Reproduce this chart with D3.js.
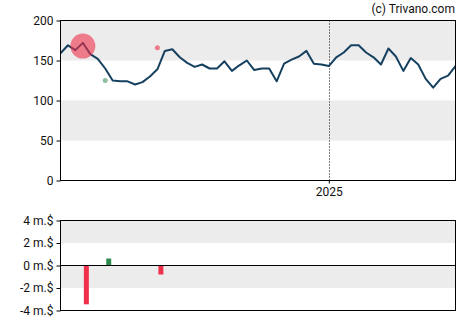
<!DOCTYPE html>
<html><head><meta charset="utf-8">
<script src="https://cdn.jsdelivr.net/npm/d3@7"></script>
<style>body{margin:0;background:#fff}svg{display:block}text{font-family:Roboto,"Liberation Sans",Arial,sans-serif}</style>
</head><body>
<div id="chart"></div>
<script>
// Weekly closing prices (54 weeks)
const startDate = new Date(2024, 3, 24);
const dates = d3.range(54).map(i => d3.timeWeek.offset(startDate, i));
const prices = [159,169,163,172,158,152,140,125,124,124,120,123,130,139,162,164,154,147,142,145,
  140,140,149,137,144,150,138,140,140,124,146,151,155,162,146,145,143,154,160,169,
  169,160,154,145,165,155,137,153,145,127,116,127,131,143];
// insider events: week index, price level, size, type
const eventIdx = [3, 6, 13];
const eventPrice = [168, 125, 166];
const eventRadius = [12.5, 2.5, 2.5];
const eventType = ["sell", "buy", "sell"];
// net transaction amounts in millions $
const barIdx = [3, 6, 13];
const barValues = [-3.45, 0.62, -0.8];
const barType = ["sell", "buy", "sell"];
const yTicks = [0, 50, 100, 150, 200];
const y2Ticks = [4, 2, 0, -2, -4];
const y2Labels = ["4 m.$", "2 m.$", "0 m.$", "-2 m.$", "-4 m.$"];
const xTickDates = [new Date(2025, 0, 1)];
const xTickLabels = ["2025"];

const W = 470, H = 325;
const svg = d3.select("#chart").append("svg").attr("width", W).attr("height", H);
const L = 60.5, R = 455.5;
const x = d3.scaleTime().domain([dates[0], dates[dates.length - 1]]).range([L, R]);
const y = d3.scaleLinear().domain([0, 200]).range([180.5, 20.5]);
const y2 = d3.scaleLinear().domain([-4, 4]).range([310.5, 220.5]);
const red = "#f0304a", green = "#2e8b4e";

// bands main
[[150, 200], [50, 100]].forEach(b => {
  svg.append("rect").attr("x", L).attr("width", R - L).attr("y", y(b[1])).attr("height", y(b[0]) - y(b[1])).attr("fill", "#ececec");
});
[[2, 4], [-2, 0]].forEach(b => {
  svg.append("rect").attr("x", L).attr("width", R - L).attr("y", y2(b[1])).attr("height", y2(b[0]) - y2(b[1])).attr("fill", "#ececec");
});

// 2025 dotted line
xTickDates.forEach(d => {
  const xx = Math.round(x(d)) + 0.5;
  svg.append("line").attr("x1", xx).attr("x2", xx).attr("y1", 20.5).attr("y2", 180.5)
    .attr("stroke", "#000").attr("stroke-width", 1).attr("stroke-dasharray", "1,2");
});

// price line
svg.append("path").datum(prices)
  .attr("fill", "none").attr("stroke", "#15405f").attr("stroke-width", 2).attr("stroke-linejoin", "round")
  .attr("d", d3.line().x((d, i) => x(dates[i])).y(d => y(d)));

// events
eventIdx.forEach((ix, k) => {
  svg.append("circle").attr("cx", x(dates[ix])).attr("cy", y(eventPrice[k])).attr("r", eventRadius[k])
    .attr("fill", eventType[k] === "sell" ? red : green).attr("fill-opacity", eventType[k] === "sell" ? 0.6 : 0.55);
});

// frames
svg.append("rect").attr("x", L).attr("y", 20.5).attr("width", R - L).attr("height", 160).attr("fill", "none").attr("stroke", "#000");
svg.append("rect").attr("x", L).attr("y", 220.5).attr("width", R - L).attr("height", 90).attr("fill", "none").attr("stroke", "#000");

// axes main
const gy = svg.append("g").attr("transform", `translate(${L},0)`)
  .call(d3.axisLeft(y).tickValues(yTicks).tickSize(4).tickPadding(3));
gy.select(".domain").remove();
gy.selectAll("text").attr("font-size", 12).attr("fill", "#111");
const gx = svg.append("g").attr("transform", `translate(0,180.5)`)
  .call(d3.axisBottom(x).tickValues(xTickDates).tickFormat((d, i) => xTickLabels[i]).tickSize(3).tickPadding(4));
gx.select(".domain").remove();
gx.selectAll("text").attr("font-size", 12).attr("fill", "#111");

// bars
barIdx.forEach((ix, k) => {
  const v = barValues[k];
  svg.append("rect").attr("x", x(dates[ix]) + 1).attr("width", 5)
    .attr("y", y2(Math.max(0, v))).attr("height", Math.abs(y2(v) - y2(0)))
    .attr("fill", barType[k] === "sell" ? red : green);
});
svg.append("line").attr("x1", L).attr("x2", R).attr("y1", y2(0)).attr("y2", y2(0)).attr("stroke", "#000");

const gy2 = svg.append("g").attr("transform", `translate(${L},0)`)
  .call(d3.axisLeft(y2).tickValues(y2Ticks).tickFormat((d, i) => y2Labels[i]).tickSize(4).tickPadding(3));
gy2.select(".domain").remove();
gy2.selectAll("text").attr("font-size", 12).attr("fill", "#111");

svg.append("text").attr("x", 455).attr("y", 13).attr("text-anchor", "end").attr("font-size", 12).attr("fill", "#111").text("(c) Trivano.com");
</script>
</body></html>
